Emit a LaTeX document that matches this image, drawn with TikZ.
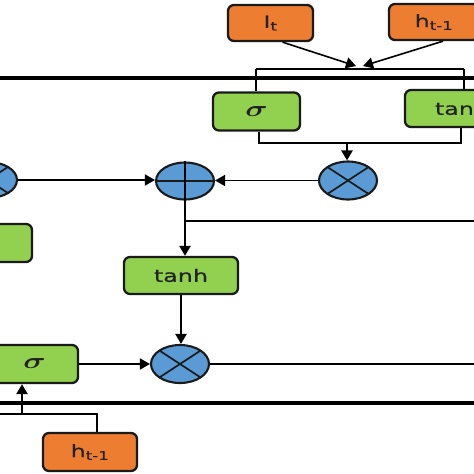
\documentclass[tikz,border=0pt]{standalone}
\usepackage{fontspec}
\usetikzlibrary{arrows.meta,shapes.geometric,calc}
\newfontfamily\widefont[FakeStretch=1.4,FakeBold=0.6]{DejaVu Sans}
\definecolor{orangefill}{HTML}{ED7D31}
\definecolor{greenfill}{HTML}{92D050}
\definecolor{bluefill}{HTML}{5B9BD5}
\definecolor{edge}{HTML}{1A1A1A}
\definecolor{txt}{HTML}{222222}
\tikzset{
  inbox/.style={draw=edge,line width=2.3pt,rounded corners=6pt,fill=orangefill,minimum width=85pt,minimum height=36pt,inner sep=0pt,text=txt,font=\widefont\fontsize{17}{20}\selectfont},
  gatebox/.style={draw=edge,line width=2.3pt,rounded corners=6pt,fill=greenfill,minimum width=87pt,minimum height=38pt,inner sep=0pt,text=txt,font=\widefont\fontsize{17}{20}\selectfont},
  op/.style={draw=edge,line width=2.1pt,ellipse,fill=bluefill,minimum width=58pt,minimum height=38pt,inner sep=0pt},
  thin/.style={line width=1.6pt,black},
  mid/.style={line width=2.3pt,black},
  heavy/.style={line width=3.3pt,black},
  arr/.style={-{Triangle[length=10pt,width=11pt]}},
}
\newcommand{\sig}{\scalebox{1.8}[1.3]{\fontsize{17}{20}\selectfont\boldmath$\sigma$}}
\newcommand{\crossop}[1]{%
  \draw[line width=1.7pt,edge] ($(#1.center)+(-20.5,-13.4)$) -- ($(#1.center)+(20.5,13.4)$);
  \draw[line width=1.7pt,edge] ($(#1.center)+(-20.5,13.4)$) -- ($(#1.center)+(20.5,-13.4)$);}
\begin{document}
\begin{tikzpicture}[x=1pt,y=-1pt]
\useasboundingbox (0,0) rectangle (474,474);
% nodes
\node[inbox] (it) at (270.5,23) {I\textsubscript{t}};
\node[inbox,minimum width=90pt] (ht) at (434,22) {h\textsubscript{t-1}};
\node[gatebox] (sig1) at (256.5,111.5) {\sig};
\node[gatebox,minimum width=114pt,minimum height=37pt] (tanh1) at (462,108.5) {tanh};
\node[op] (mul1) at (348,180.5) {};
\node[op,minimum height=37pt] (add) at (185,181) {};
\node[op,minimum height=36pt] (mul0) at (-12,180) {};
\node[gatebox,minimum width=112pt] (g0) at (-24,243) {};
\node[gatebox,minimum width=114pt,minimum height=37pt] (tanh2) at (181,275.5) {tanh};
\node[op] (mul2) at (180,364) {};
\node[gatebox] (sig2) at (34.5,364) {\sig};
\node[inbox,minimum width=94pt,minimum height=38pt] (hb) at (90,452) {h\textsubscript{t-1}};
% symbols in ops
\crossop{mul1}
\crossop{mul2}
\crossop{mul0}
\draw[line width=1.7pt,edge] (add.west) -- (add.east);
% coordinates
\coordinate (tl) at (-5,78);
\coordinate (tr) at (480,78);
\coordinate (bl) at (-5,403);
\coordinate (br) at (480,403);
\coordinate (bktl) at (256,69);
\coordinate (bktr) at (464,69);
\coordinate (tipa) at (356,66);
\coordinate (tipb) at (363,66);
\coordinate (lbl) at (259,143);
\coordinate (lbr) at (461,143);
\coordinate (lbm) at (347,143);
\coordinate (cbr) at (185,221);
\coordinate (cbe) at (480,221);
\coordinate (hout) at (480,364);
\coordinate (hup) at (97,414);
\coordinate (hleft) at (-5,414);
\coordinate (hsig) at (22,414);
% cell state lines
\draw[heavy] (tl) -- (tr);
\draw[heavy] (bl) -- (br);
% top inputs
\draw[thin,arr] (it.south) ++(12,0) -- (tipa);
\draw[thin,arr] (ht.south) ++(9,0) -- (tipb);
\draw[thin] (bktl) -- (bktr);
\draw[mid] (bktl) -- (bktl |- sig1.north);
\draw[mid] (bktr) -- (bktr |- tanh1.north);
\draw[thin] (lbl |- sig1.south) -- (lbl) -- (lbr) -- (lbr |- tanh1.south);
\draw[mid,arr] (lbm) -- (lbm |- mul1.north);
% middle
\draw[thin,arr] (mul0.east) -- (mul0.east -| add.west);
\draw[thin,arr] (mul1.west) -- (mul1.west -| add.east);
\draw[mid] (add.north) -- (add.south);
\draw[mid,arr] (add.south) -- (add.south |- tanh2.north);
\draw[thin] (cbr) -- (cbe);
\draw[mid,arr] (tanh2.south) -- (tanh2.south |- mul2.north);
\draw[thin,arr] (sig2.east) -- (sig2.east -| mul2.west);
\draw[thin] (mul2.east) -- (hout);
% bottom input
\draw[mid] (hb.north -| hup) -- (hup) -- (hleft);
\draw[mid,arr] (hsig) -- (hsig |- sig2.south);
\end{tikzpicture}
\end{document}
